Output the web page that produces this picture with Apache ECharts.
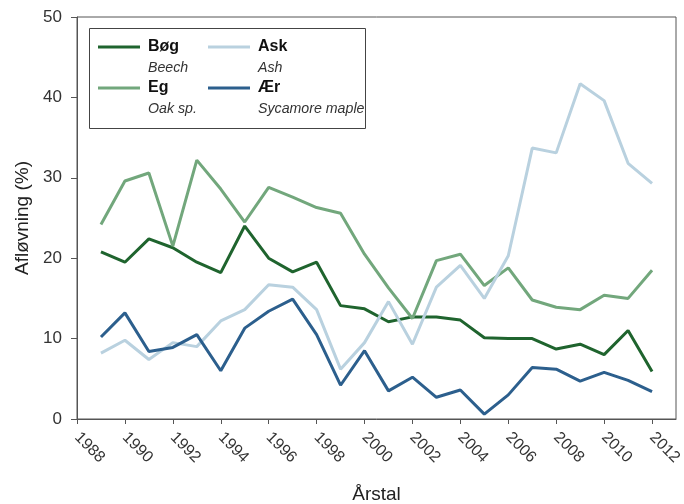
<!DOCTYPE html>
<html><head><meta charset="utf-8">
<script src="https://cdn.jsdelivr.net/npm/echarts@6/dist/echarts.min.js"></script>
<style>html,body{margin:0;padding:0;background:#fff}#c{width:684px;height:504px}</style>
</head><body><div id="c"></div>
<script>
const years = [1989,1990,1991,1992,1993,1994,1995,1996,1997,1998,1999,2000,2001,2002,2003,2004,2005,2006,2007,2008,2009,2010,2011,2012];
const beech = [20.8,19.5,22.4,21.3,19.5,18.2,24.0,20.0,18.3,19.5,14.1,13.7,12.1,12.7,12.7,12.3,10.1,10.0,10.0,8.7,9.3,8.0,11.0,5.9];
const oak   = [24.2,29.6,30.6,21.5,32.2,28.6,24.5,28.8,27.6,26.3,25.6,20.5,16.3,12.5,19.7,20.5,16.6,18.8,14.8,13.9,13.6,15.4,15.0,18.5];
const ash   = [8.2,9.8,7.4,9.5,9.0,12.2,13.6,16.7,16.4,13.6,6.2,9.5,14.6,9.3,16.4,19.1,15.0,20.3,33.7,33.1,41.7,39.6,31.8,29.3];
const maple = [10.2,13.2,8.4,8.9,10.5,6.0,11.3,13.4,14.9,10.5,4.2,8.5,3.5,5.2,2.7,3.6,0.6,3.0,6.4,6.2,4.7,5.8,4.8,3.4];
const xTicks = [1988,1990,1992,1994,1996,1998,2000,2002,2004,2006,2008,2010,2012];
const names = ['Bøg','Eg','Ask','Ær'];
const latin = {'Bøg':'Beech','Eg':'Oak sp.','Ask':'Ash','Ær':'Sycamore maple'};
const colors = {'Bøg':'#1f642e','Eg':'#72a77c','Ask':'#b9d1df','Ær':'#2c5f8d'};
const seriesData = {'Bøg':beech,'Eg':oak,'Ask':ash,'Ær':maple};

const font = 'Liberation Sans, Arial, sans-serif';
const chart = echarts.init(document.getElementById('c'), null, {renderer:'canvas'});
function nameLegend(data, left) {
  return {data, left, top:37, orient:'vertical', itemWidth:42, itemHeight:3, itemGap:21, icon:'rect', padding:0,
    textStyle:{fontFamily:font, fontSize:16, fontWeight:'bold', color:'#111', lineHeight:20, padding:[0,0,0,3]}};
}
function latinLegend(data, left) {
  return {data, left, top:58, orient:'vertical', itemWidth:42, itemHeight:3, itemGap:21, icon:'rect', padding:0,
    itemStyle:{opacity:0}, lineStyle:{opacity:0},
    formatter: n => latin[n],
    textStyle:{fontFamily:font, fontSize:14.2, fontStyle:'italic', color:'#333', lineHeight:20, padding:[0,0,0,3]}};
}
chart.setOption({
  animation:false,
  color: names.map(n=>colors[n]),
  grid:{left:77, top:17, width:599, height:402, show:true, borderColor:'#555', borderWidth:1, outerBoundsMode:'none', containLabel:false},
  graphic:[{type:'rect', shape:{x:89.5,y:28.5,width:276,height:100}, style:{fill:'none', stroke:'#444', lineWidth:1}, z:10}],
  legend:[
    nameLegend(['Bøg','Eg'], 98), nameLegend(['Ask','Ær'], 208),
    latinLegend(['Bøg','Eg'], 98), latinLegend(['Ask','Ær'], 208)
  ],
  xAxis:{type:'value', min:1988, max:2013,
    name:'Årstal', nameLocation:'middle', nameGap:66,
    nameTextStyle:{fontFamily:font, fontSize:19, color:'#222'},
    axisLine:{show:true, lineStyle:{color:'#555'}},
    axisTick:{show:true, customValues:xTicks, length:5, lineStyle:{color:'#555'}},
    axisLabel:{customValues:xTicks, rotate:-45, margin:16, fontFamily:font, fontSize:16, color:'#333', formatter:v=>String(v)},
    splitLine:{show:false}},
  yAxis:{type:'value', min:0, max:50, interval:10,
    name:'Afløvning (%)', nameLocation:'middle', nameGap:44,
    nameTextStyle:{fontFamily:font, fontSize:19, color:'#222'},
    axisLine:{show:true, lineStyle:{color:'#555'}},
    axisTick:{show:true, length:6, lineStyle:{color:'#555'}},
    axisLabel:{fontFamily:font, fontSize:17, color:'#333', margin:15},
    splitLine:{show:false}},
  series: names.map(n=>({name:n, type:'line', showSymbol:false, symbol:'none',
    lineStyle:{width:3, color:colors[n]}, itemStyle:{color:colors[n]},
    data: years.map((y,i)=>[y, seriesData[n][i]])}))
});
</script></body></html>
